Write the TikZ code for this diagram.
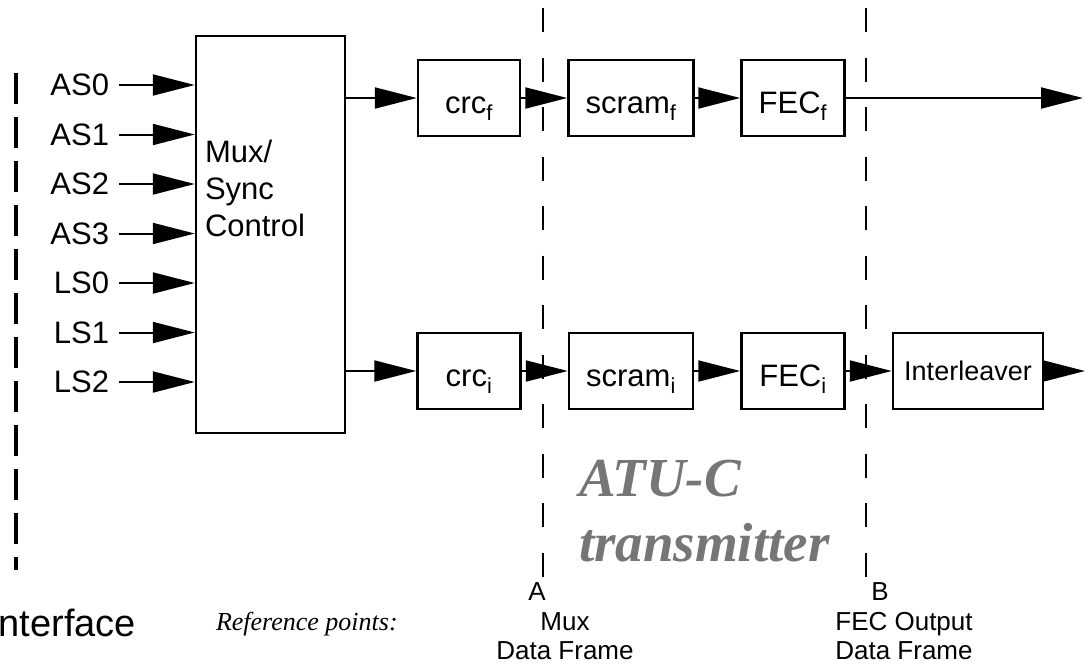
\documentclass[tikz,border=0pt]{standalone}
\usepackage{fontspec}
\setmainfont{Liberation Sans}
\newfontfamily\refserif{Liberation Serif}
\usetikzlibrary{arrows.meta}
\definecolor{atugray}{RGB}{118,118,118}

\begin{document}
\begin{tikzpicture}[x=1pt, y=-1pt, line width=2pt, node distance=162pt, >={Triangle[length=42pt,width=21pt]},
    every node/.style={font=\fontsize{31}{37}\selectfont},
    blk/.style={draw, line width=2.5pt, minimum height=76pt, inner sep=2pt, text height=36pt, text depth=6pt},
    reflbl/.style={font=\fontsize{26}{29}\selectfont, inner sep=0pt, align=center}]
    \useasboundingbox (0,0) rectangle (1089,665);
    % mux / sync block
    \node[draw, line width=2.5pt, minimum width=149pt, minimum height=397pt] (mux) at (270.5,234.5) {};
    \node[anchor=north west, align=left, inner sep=0pt] (muxtext) at (204,139) {Mux/\\Sync\\Control};
    % input streams
    \foreach \nm [count=\i from 0] in {AS0,AS1,AS2,AS3,LS0,LS1,LS2} {
        \node[anchor=east, inner sep=0pt] (\nm) at (110,85+49.5*\i) {\nm};
        \draw[->, shorten <=9pt] (\nm) -- (\nm -| mux.west);
    }
    % fast path
    \node[blk, minimum width=102pt] (crcf) at (469,98) {crc\textsubscript{f}};
    \node[blk, minimum width=125pt, right of=crcf] (scramf) {scram\textsubscript{f}};
    \node[blk, minimum width=103pt, right of=scramf] (fecf) {FEC\textsubscript{f}};
    \coordinate (outf) at (1083,98);
    % interleaved path
    \node[blk, minimum width=103pt, below of=crcf, yshift=-111pt] (crci) {crc\textsubscript{i}};
    \node[blk, minimum width=124pt, right of=crci] (scrami) {scram\textsubscript{i}};
    \node[blk, minimum width=103pt, right of=scrami] (feci) {FEC\textsubscript{i}};
    \node[blk, minimum width=150pt, right of=feci, xshift=13pt, text height=19pt, text depth=1pt, font=\fontsize{27}{32}\selectfont] (intl) {Interleaver};
    \coordinate (outi) at (1085,371);
    \draw[->] (crcf -| mux.east) -- (crcf);
    \draw[->] (crcf) -- (scramf);
    \draw[->] (scramf) -- (fecf);
    \draw[->] (fecf) -- (outf);
    \draw[->] (crci -| mux.east) -- (crci);
    \draw[->] (crci) -- (scrami);
    \draw[->] (scrami) -- (feci);
    \draw[->] (feci) -- (intl);
    \draw[->] (intl) -- (outi);
    % interface and reference lines
    \draw[line width=3.5pt, dash pattern=on 31pt off 13pt] (16,73) -- (16,570);
    \draw[line width=1.8pt, dash pattern=on 24pt off 25.5pt] (543,8) -- (543,577);
    \draw[line width=1.8pt, dash pattern=on 24pt off 25.5pt] (866,8) -- (866,577);
    \node[anchor=base east, inner sep=0pt, font=\fontsize{38}{44}\selectfont] (iface) at (137,636) {Interface};
    \node[anchor=base west, inner sep=0pt, font=\refserif\itshape\fontsize{26}{30}\selectfont] (refpts) at (215,630) {Reference points:};
    \node[reflbl] (ptA) at (537,592) {A};
    \node[reflbl] (ptB) at (880,592) {B};
    \node[reflbl, anchor=north] (muxframe) at (565,612) {Mux\\Data Frame};
    \node[reflbl, anchor=north] (fecframe) at (904,611) {FEC Output\\Data Frame};
    \node[anchor=north west, align=left, inner sep=0pt, text=atugray, font=\refserif\bfseries\itshape\fontsize{55}{65}\selectfont] (atuc) at (578,459) {ATU-C\\transmitter};
\end{tikzpicture}
\end{document}
